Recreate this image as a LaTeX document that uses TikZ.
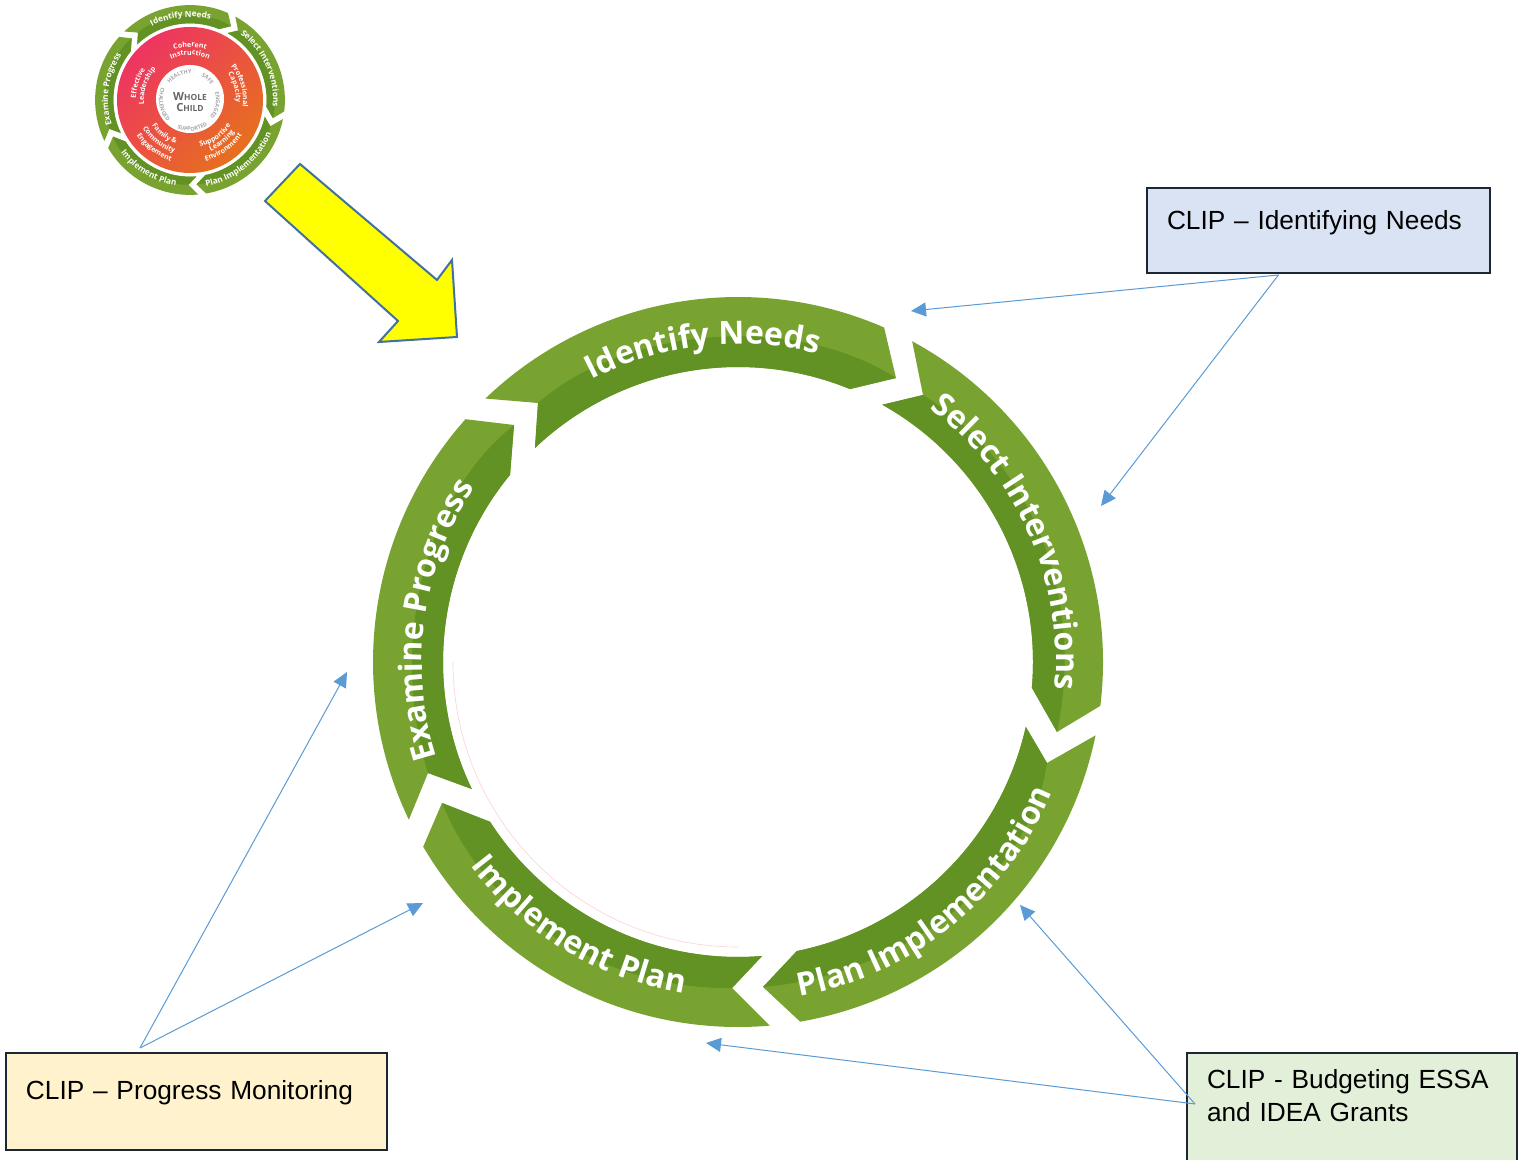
\documentclass[tikz,border=0pt]{standalone}
\usepackage{fontspec}
\setmainfont{Liberation Sans}
\newfontfamily\ringfont{Open Sans}
\usetikzlibrary{arrows.meta,calc,decorations.text}
\definecolor{ringlight}{HTML}{79A330}
\definecolor{ringdark}{HTML}{619223}
\definecolor{linkblue}{HTML}{5B9BD5}
\definecolor{boxline}{HTML}{1C2733}
\definecolor{logopink}{HTML}{EE3462}
\definecolor{logoorange}{HTML}{E6701E}
\definecolor{arrowblue}{HTML}{41719C}
\definecolor{arrowyellow}{RGB}{255,255,0}
\definecolor{boxblue}{HTML}{DAE3F3}
\definecolor{boxyellow}{HTML}{FFF2CC}
\definecolor{boxgreen}{HTML}{E2F0D9}
\newcommand{\seg}[8]{%
  \fill[ringlight] (#1:365) arc[start angle=#1,end angle=#2,radius=365] -- (#6) -- (#4:295)
    arc[start angle=#4,end angle=#3,radius=295] -- (#5) -- cycle;
  \fill[ringdark] (#5) .. controls (#7) and (#8) .. (#6) -- (#4:295)
    arc[start angle=#4,end angle=#3,radius=295] -- cycle;}
\newcommand{\allsegs}{%
  \seg{133.8}{66.4}{133.5}{67.7}{-200,259}{158,284}{-118,332}{52,352}
  \seg{61.5}{-6.9}{60.7}{-5}{185,267}{319,-70}{297,197}{347,62}
  \seg{-11.6}{-80.2}{-12.7}{-78.5}{309,-101}{25,-325}{292,-218}{162,-313}
  \seg{-85}{-149.6}{-85.3}{-147.2}{-6,-326}{-296,-141}{-128,-328}{-248,-258}
  \seg{205.6}{138.3}{205.5}{140.6}{-310,-111}{-224,237}{-348,12}{-318,162}}
% text along a circle, centred on an angle: tops outward (cw) or inward (ccw)
\newcommand{\cwtext}[4]{\path[decorate,decoration={text along path,text align={center},
  text={|#3|#4}}] (#2+75:#1) arc[start angle=#2+75,end angle=#2-75,radius=#1];}
\newcommand{\ccwtext}[4]{\path[decorate,decoration={text along path,text align={center},
  text={|#3|#4}}] (#2-75:#1) arc[start angle=#2-75,end angle=#2+75,radius=#1];}
\newcommand{\bigf}{\ringfont\bfseries\fontsize{18.2}{18}\selectfont\color{white}}
\newcommand{\minif}{\ringfont\bfseries\fontsize{4.7}{5}\selectfont\color{white}}
\newcommand{\redf}{\ringfont\bfseries\fontsize{4}{4}\selectfont\color{white}}
\newcommand{\greyf}{\ringfont\bfseries\fontsize{3.1}{3}\selectfont\color{black!35}}
\tikzset{
  clipbox/.style={draw=boxline,line width=1.14pt,anchor=north west,inner xsep=.4cm,align=left,
    font=\fontsize{14.95}{19}\selectfont,text=black},
  link/.style={draw=linkblue,line width=.57pt,-{Triangle[length=.3cm,width=.28cm,fill=linkblue]}},
}
\begin{document}
\begin{tikzpicture}[x=0.02cm,y=0.02cm,line width=.57pt]
\clip (0,0) rectangle (1527,1159);
\fill[white] (0,0) rectangle (1527,1159);
% small logo
\begin{scope}[shift={(190,1059)},scale=0.26]
  \allsegs
\end{scope}
\shade[shading=axis,left color=logopink,right color=logoorange,shading angle=45] (190,1059) circle[radius=73];
\fill[white] (190,1060) circle[radius=34];
\begin{scope}[shift={(190,1059)}]
  \cwtext{83}{96.5}{\minif}{Identify Needs}
  \cwtext{83}{24}{\minif}{Select Interventions}
  \ccwtext{88}{-51}{\minif}{Plan Implementation}
  \ccwtext{87}{-121}{\minif}{Implement Plan}
  \cwtext{82}{172}{\minif}{Examine Progress}
  \cwtext{53}{90}{\redf}{Coherent}
  \cwtext{45}{90}{\redf}{Instruction}
  \cwtext{53}{16}{\redf}{Professional}
  \cwtext{46}{16}{\redf}{Capacity}
  \cwtext{54}{162}{\redf}{Effective}
  \cwtext{46}{162}{\redf}{Leadership}
  \ccwtext{48}{-55}{\redf}{Supportive}
  \ccwtext{55}{-52}{\redf}{Learning}
  \ccwtext{63}{-55}{\redf}{Environment}
  \ccwtext{46}{-127}{\redf}{Family {\&}}
  \ccwtext{55}{-128}{\redf}{Community}
  \ccwtext{64}{-127}{\redf}{Engagement}
  \cwtext{26}{114}{\greyf}{HEALTHY}
  \cwtext{26}{50}{\greyf}{SAFE}
  \cwtext{26}{-12}{\greyf}{ENGAGED}
  \ccwtext{31}{-85}{\greyf}{SUPPORTED}
  \ccwtext{31}{-170}{\greyf}{CHALLENGED}
\end{scope}
\node[inner sep=0pt,text=black!60,font=\ringfont\bfseries] (whole) at (190,1062) {\fontsize{6.4}{6}\selectfont W\fontsize{4.8}{6}\selectfont HOLE};
\node[inner sep=0pt,text=black!60,font=\ringfont\bfseries] (child) at (190,1052) {\fontsize{6.4}{6}\selectfont C\fontsize{4.8}{6}\selectfont HILD};
% yellow arrow
\draw[fill=arrowyellow,draw=arrowblue,line width=1.14pt,line join=miter] (300,995) -- (437,879) -- (452,899) -- (457,822) -- (379,817) -- (398,838) -- (265,958) -- cycle;
% big ring
\begin{scope}[shift={(738,497)}]
  \draw[draw=pink!70!white,line width=0.35pt] (180:285) arc[start angle=180,end angle=270,radius=285];
  \allsegs
  \cwtext{318}{96.5}{\bigf}{Identify Needs}
  \cwtext{318}{24}{\bigf}{Select Interventions}
  \ccwtext{340}{-51}{\bigf}{Plan Implementation}
  \ccwtext{336}{-121}{\bigf}{Implement Plan}
  \cwtext{316}{172}{\bigf}{Examine Progress}
\end{scope}
% boxes
\node[clipbox,fill=boxblue,text width=6.06cm,text height=.84cm,text depth=.86cm,inner ysep=0pt] (needs) at (1146,972) {CLIP -- Identifying Needs};
\node[clipbox,fill=boxyellow,text width=6.82cm,text height=.94cm,text depth=1cm,inner ysep=0pt] (monitor) at (5,107) {CLIP -- Progress Monitoring};
\node[clipbox,fill=boxgreen,text width=5.8cm,inner ysep=.32cm] (budget) at (1186,107) {CLIP - Budgeting ESSA\\and IDEA Grants\\ \ };
% connectors
\coordinate (needsfrom) at ($(needs.south)+(-40,-1)$);
\coordinate (needsA) at (911,848);
\coordinate (needsB) at (1101,653);
\coordinate (monitorfrom) at (140,111);
\coordinate (monitorA) at (347,487);
\coordinate (monitorB) at (423,256);
\coordinate (budgetfrom) at (1195,55);
\coordinate (budgetA) at (1020,254);
\coordinate (budgetB) at (706,116);
\draw[link] (needsfrom) -- (needsA);
\draw[link] (needsfrom) -- (needsB);
\draw[link] (monitorfrom) -- (monitorA);
\draw[link] (monitorfrom) -- (monitorB);
\draw[link] (budgetfrom) -- (budgetA);
\draw[link] (budgetfrom) -- (budgetB);
\end{tikzpicture}
\end{document}
